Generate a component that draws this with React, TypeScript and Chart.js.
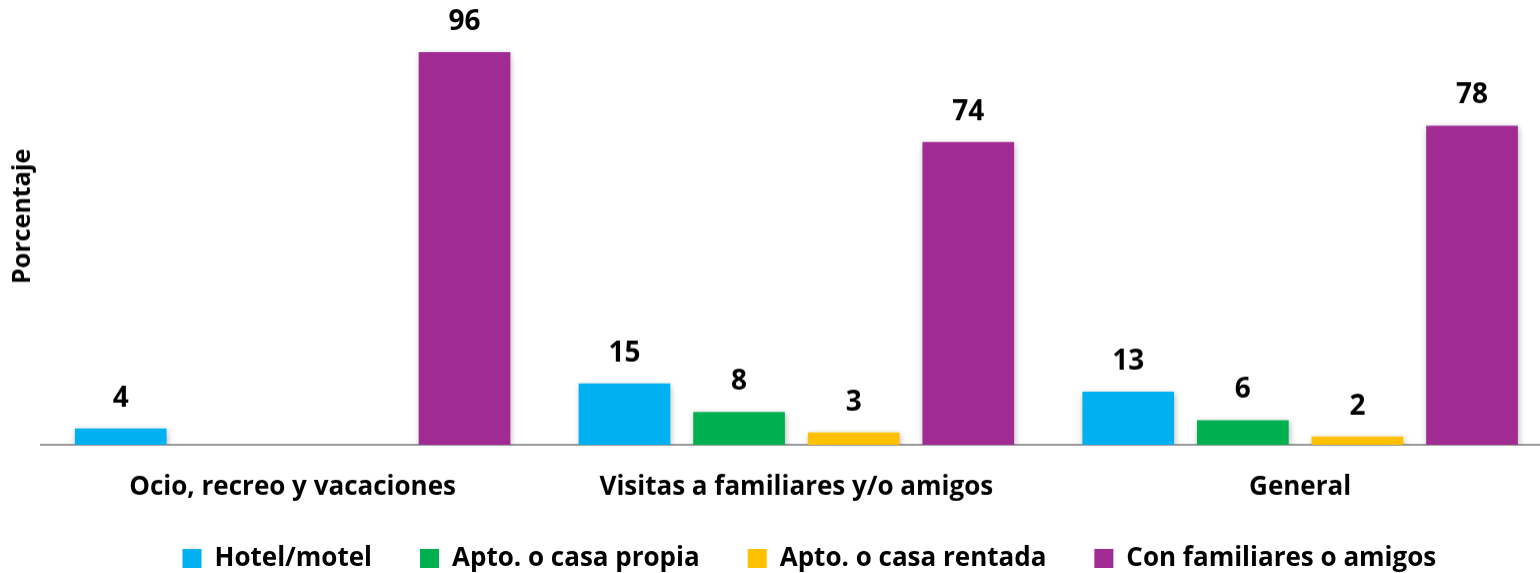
import React, { useEffect, useRef } from "react";
import { Chart, registerables } from "chart.js";

Chart.register(...registerables);

const categories = ["Ocio, recreo y vacaciones", "Visitas a familiares y/o amigos", "General"];
const seriesNames = ["Hotel/motel", "Apto. o casa propia", "Apto. o casa rentada", "Con familiares o amigos"];
const hotelMotel = [4, 15, 13];
const casaPropia = [null, 8, 6];
const casaRentada = [null, 3, 2];
const conFamiliares = [96, 74, 78];
const seriesColors = ["#00B0F0", "#00B050", "#FFC000", "#A02B93"];
const yTitle = "Porcentaje";

const FONT = "'Open Sans'";

const shadowPlugin = {
  id: "barShadow",
  beforeDatasetsDraw(chart: any) {
    const ctx = chart.ctx;
    ctx.save();
    ctx.shadowColor = "rgba(0,0,0,0.28)";
    ctx.shadowBlur = 6;
    ctx.shadowOffsetX = 1;
    ctx.shadowOffsetY = 2;
  },
  afterDatasetsDraw(chart: any) {
    chart.ctx.restore();
  },
};

const labelPlugin = {
  id: "valueLabels",
  afterDatasetsDraw(chart: any) {
    const ctx = chart.ctx;
    ctx.save();
    ctx.shadowColor = "transparent";
    ctx.fillStyle = "#000";
    ctx.font = `bold 28px ${FONT}`;
    ctx.textAlign = "center";
    ctx.textBaseline = "middle";
    chart.data.datasets.forEach((ds: any, i: number) => {
      const meta = chart.getDatasetMeta(i);
      meta.data.forEach((bar: any, j: number) => {
        const v = ds.data[j];
        if (v === null || v === undefined) return;
        ctx.fillText(String(v), bar.x, bar.y - 30);
      });
    });
    ctx.restore();
  },
};

const yTitlePlugin = {
  id: "yTitleText",
  afterDraw(chart: any) {
    const ctx = chart.ctx;
    ctx.save();
    ctx.fillStyle = "#000";
    ctx.font = `bold 25px ${FONT}`;
    ctx.textAlign = "center";
    ctx.textBaseline = "middle";
    ctx.translate(23, 216);
    ctx.rotate(-Math.PI / 2);
    ctx.fillText(yTitle, 0, 0);
    ctx.restore();
  },
};

const legendShiftPlugin = {
  id: "legendShift",
  afterLayout(chart: any) {
    const lg = chart.legend;
    if (lg) {
      lg.left += 13;
      lg.right += 13;
      lg.top -= 6.5;
      lg.bottom -= 6.5;
    }
  },
};

export default function App() {
  const ref = useRef<HTMLCanvasElement>(null);
  useEffect(() => {
    if (!ref.current) return;
    const seriesData = [hotelMotel, casaPropia, casaRentada, conFamiliares];
    const chart = new Chart(ref.current, {
      type: "bar",
      data: {
        labels: categories,
        datasets: seriesNames.map((name, i) => ({
          label: name,
          data: seriesData[i],
          backgroundColor: seriesColors[i],
          borderWidth: 0,
          categoryPercentage: 0.91,
          barPercentage: 0.8,
        })),
      },
      options: {
        responsive: false,
        animation: false,
        maintainAspectRatio: false,
        layout: { padding: { left: 40.75, right: 0, top: 35.6, bottom: 0 } },
        plugins: {
          tooltip: { enabled: false },
          title: { display: false },
          legend: {
            position: "bottom",
            labels: {
              boxWidth: 19,
              boxHeight: 19,
              padding: 48,
              color: "#000",
              font: { family: FONT, size: 26, weight: "bold" },
            },
          },
        },
        scales: {
          x: {
            grid: { display: false, drawTicks: false },
            border: { display: true, color: "#9A9A9A", width: 2 },
            ticks: {
              color: "#000",
              padding: 27,
              maxRotation: 0,
              minRotation: 0,
              autoSkip: false,
              font: { family: FONT, size: 26, weight: "bold" },
            },
            afterFit(scale: any) {
              scale.height = 59;
            },
          },
          y: {
            display: false,
            min: 0,
            max: 100,
          },
        },
      },
      plugins: [shadowPlugin, labelPlugin, yTitlePlugin, legendShiftPlugin],
    });
    return () => chart.destroy();
  }, []);

  return (
    <div style={{ position: "fixed", left: 0, top: 0, width: 1540, height: 573, overflow: "hidden", background: "#fff" }}>
      <canvas ref={ref} width={1552} height={587.5} style={{ display: "block", width: 1552, height: 587.5 }} />
    </div>
  );
}
